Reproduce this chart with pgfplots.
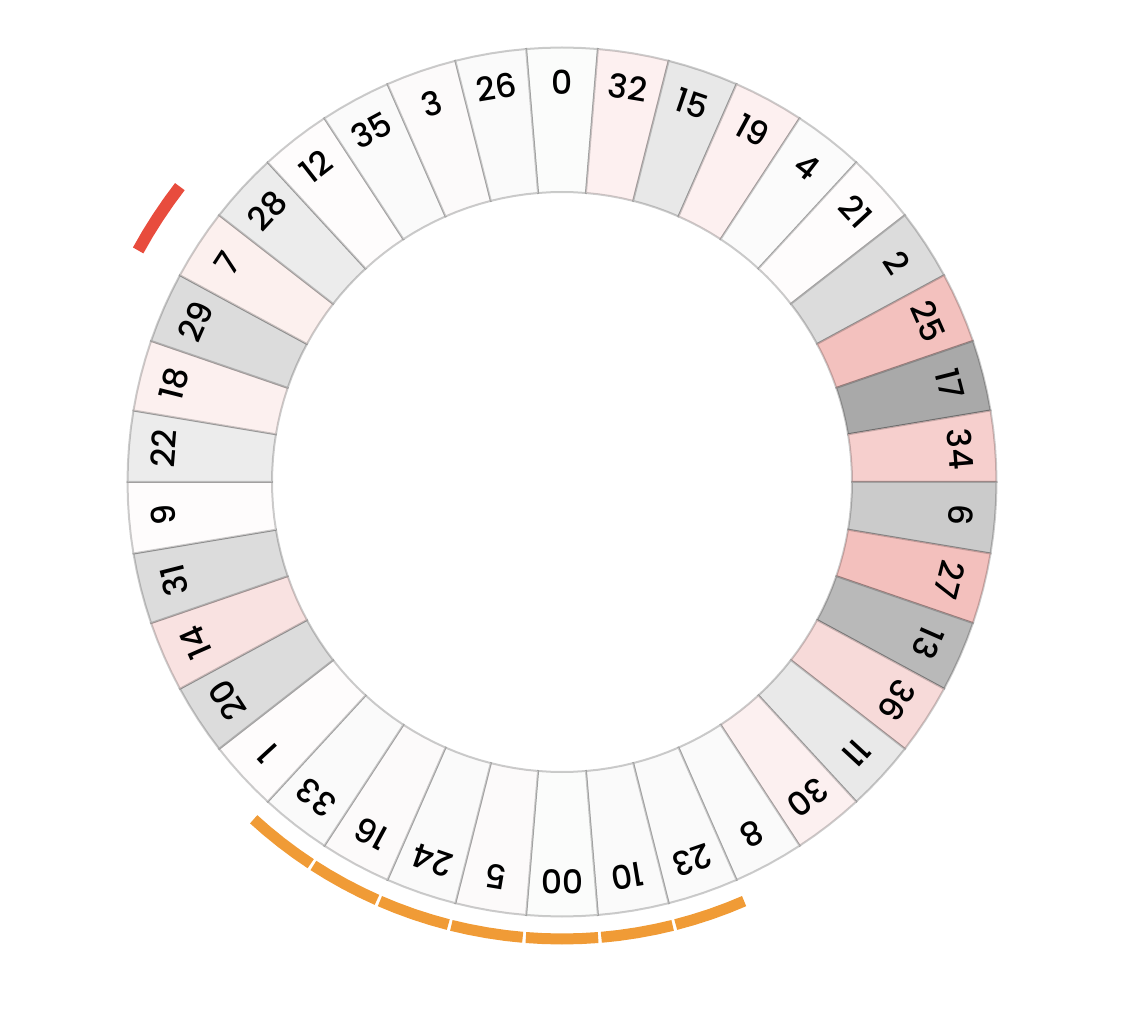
\documentclass[border=0pt]{standalone}
\usepackage{pgfplots}
\pgfplotsset{compat=1.18}
\usepackage{fontspec}
\IfFontExistsTF{Poppins Medium}{\setmainfont{Poppins Medium}}{\setmainfont{Poppins}[FakeBold=0.6]}
% fill colours of the 38 pockets
\definecolor{n0}{HTML}{FBFCFB}
\definecolor{n32}{HTML}{FDF0F0}
\definecolor{n15}{HTML}{E8E8E8}
\definecolor{n19}{HTML}{FDF0F0}
\definecolor{n4}{HTML}{FBFBFB}
\definecolor{n21}{HTML}{FEFCFC}
\definecolor{n2}{HTML}{DCDCDC}
\definecolor{n25}{HTML}{F3C1BE}
\definecolor{n17}{HTML}{A9A9A9}
\definecolor{n34}{HTML}{F6CFCD}
\definecolor{n6}{HTML}{CBCBCB}
\definecolor{n27}{HTML}{F3C0BD}
\definecolor{n13}{HTML}{B9B9B9}
\definecolor{n36}{HTML}{F7DAD9}
\definecolor{n11}{HTML}{E9E9E9}
\definecolor{n30}{HTML}{FCF0F0}
\definecolor{n8}{HTML}{FAFAFA}
\definecolor{n23}{HTML}{FAFAFA}
\definecolor{n10}{HTML}{FAFAFA}
\definecolor{n00}{HTML}{FBFCFB}
\definecolor{n5}{HTML}{FCFAFA}
\definecolor{n24}{HTML}{FAFAFA}
\definecolor{n16}{HTML}{FCFAFA}
\definecolor{n33}{HTML}{FAFAFA}
\definecolor{n1}{HTML}{FEFCFC}
\definecolor{n20}{HTML}{DCDCDC}
\definecolor{n14}{HTML}{F9E2E1}
\definecolor{n31}{HTML}{DCDCDC}
\definecolor{n9}{HTML}{FEFCFC}
\definecolor{n22}{HTML}{ECECEC}
\definecolor{n18}{HTML}{FCF0EF}
\definecolor{n29}{HTML}{DCDCDC}
\definecolor{n7}{HTML}{FCF0EE}
\definecolor{n28}{HTML}{ECECEC}
\definecolor{n12}{HTML}{FEFCFC}
\definecolor{n35}{HTML}{FAFAFA}
\definecolor{n3}{HTML}{FCFAFA}
\definecolor{n26}{HTML}{FAFAFA}
\definecolor{orangeC}{HTML}{F09B36}
\definecolor{redC}{HTML}{E84C3D}
\begin{document}
\begin{tikzpicture}
\begin{axis}[
  x=0.5pt, y=0.5pt,
  xmin=-562, xmax=563, ymin=-532, ymax=482,
  hide axis, clip=false,
]
\coordinate (ll) at (axis cs:-562,-532);
\coordinate (ur) at (axis cs:563,482);
% pockets: index / number
\foreach \i/\n in {0/0,1/32,2/15,3/19,4/4,5/21,6/2,7/25,8/17,9/34,10/6,11/27,12/13,13/36,14/11,15/30,16/8,17/23,18/10,19/00,20/5,21/24,22/16,23/33,24/1,25/20,26/14,27/31,28/9,29/22,30/18,31/29,32/7,33/28,34/12,35/35,36/3,37/26}{
  \pgfmathsetmacro\t{90-\i*360/38}
  \pgfmathsetmacro\aa{\t+180/38}
  \pgfmathsetmacro\ab{\t+90/38}
  \pgfmathsetmacro\ac{\t-90/38}
  \pgfmathsetmacro\ad{\t-180/38}
  \pgfmathsetmacro\lx{400*cos(\t)}
  \pgfmathsetmacro\ly{400*sin(\t)}
  \pgfmathsetmacro\rot{\t-90}
  \edef\temp{\noexpand\addplot[fill=n\n, draw=black, draw opacity=0.2, line width=1pt, data cs=polar]
    coordinates {(\aa,290) (\aa,434.5) (\ab,434.5) (\t,434.5) (\ac,434.5) (\ad,434.5) (\ad,290) (\ac,290) (\t,290) (\ab,290)} -- cycle;
    \noexpand\node[rotate=\rot, font=\noexpand\fontsize{16.5}{18}\noexpand\selectfont, inner sep=0pt] at (axis cs:\lx,\ly) {\n};}
  \temp
}
% orange arcs (pockets 23 ... 33)
\foreach \i in {17,...,23}{
  \pgfmathsetmacro\t{90-\i*360/38}
  \pgfmathsetmacro\aa{\t+180/38-0.2}
  \pgfmathsetmacro\ab{\t+90/38}
  \pgfmathsetmacro\ac{\t-90/38}
  \pgfmathsetmacro\ad{\t-180/38+0.2}
  \edef\temp{\noexpand\addplot[draw=orangeC, line width=5.5pt, data cs=polar]
    coordinates {(\aa,457) (\ab,457) (\t,457) (\ac,457) (\ad,457)};}
  \temp
}
% red arc (pocket 28)
\addplot[draw=redC, line width=6pt, data cs=polar]
  coordinates {(151.35,483) (149.0,483) (146.84,483) (144.5,483) (142.3,483)};
\end{axis}
\pgfresetboundingbox
\path[use as bounding box] (ll) rectangle (ur);
\end{tikzpicture}
\end{document}
